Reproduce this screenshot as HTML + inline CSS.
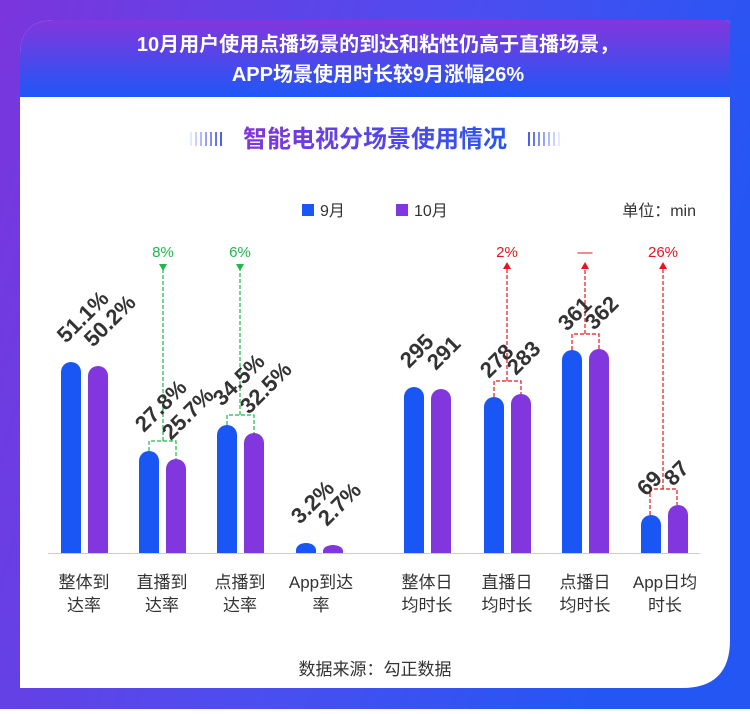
<!DOCTYPE html>
<html><head><meta charset="utf-8"><style>
body{margin:0;width:750px;height:709px;overflow:hidden;font-family:"Liberation Sans","Noto Sans CJK SC",sans-serif}
</style></head><body>
<svg width="750" height="709" viewBox="0 0 750 709" xmlns="http://www.w3.org/2000/svg" font-family="Liberation Sans, Noto Sans CJK SC, sans-serif">
<defs>
<linearGradient id="bg" x1="0" y1="0" x2="1" y2="0.3"><stop offset="0" stop-color="#7b35dc"/><stop offset="0.6" stop-color="#4a4ef0"/><stop offset="1" stop-color="#2456f4"/></linearGradient>
<linearGradient id="hd" x1="0" y1="0" x2="0" y2="1"><stop offset="0" stop-color="#8336dd"/><stop offset="1" stop-color="#1f57f6"/></linearGradient>
<linearGradient id="tt" x1="0" y1="0" x2="1" y2="0"><stop offset="0" stop-color="#8236dc"/><stop offset="1" stop-color="#2a55f0"/></linearGradient>
<linearGradient id="sl" x1="0" y1="0" x2="1" y2="0"><stop offset="0" stop-color="#fff"/><stop offset="1" stop-color="#4a5ef0"/></linearGradient>
<linearGradient id="sr" x1="1" y1="0" x2="0" y2="0"><stop offset="0" stop-color="#fff"/><stop offset="1" stop-color="#4a5ef0"/></linearGradient>
</defs>
<rect width="750" height="709" fill="url(#bg)"/>
<path d="M55 20 H726 Q730 20 730 24 V640 Q730 688 682 688 H20 V55 Q20 20 55 20Z" fill="#fff"/>
<path d="M55 20 H726 Q730 20 730 24 V97 H20 V55 Q20 20 55 20Z" fill="url(#hd)"/>
<g fill="#fff" font-weight="bold" font-size="20" text-anchor="middle">
<text x="378" y="51">10月用户使用点播场景的到达和粘性仍高于直播场景，</text>
<text x="378" y="81">APP场景使用时长较9月涨幅26%</text>
</g>
<text x="375" y="147" text-anchor="middle" font-size="24" font-weight="bold" fill="url(#tt)">智能电视分场景使用情况</text>
<g stroke-width="2">
<g stroke="url(#sl)"><path d="M186 132v14M191 132v14M196 132v14M201 132v14M206 132v14M211 132v14M216 132v14M221 132v14"/></g>
<g stroke="url(#sr)"><path d="M529 132v14M534 132v14M539 132v14M544 132v14M549 132v14M554 132v14M559 132v14M564 132v14"/></g>
</g>
<rect x="302" y="204" width="12" height="12" fill="#1a56f3"/>
<text x="320" y="216" font-size="16" fill="#333">9月</text>
<rect x="396" y="204" width="12" height="12" fill="#8136de"/>
<text x="414" y="216" font-size="16" fill="#333">10月</text>
<text x="696" y="216" font-size="16" fill="#333" text-anchor="end">单位：min</text>
<line x1="48" y1="553.5" x2="700" y2="553.5" stroke="#ccc"/>
<g>
<path d="M61 553V372a10 10 0 0 1 20 0V553Z" fill="#1a56f3"/>
<path d="M88 553V376a10 10 0 0 1 20 0V553Z" fill="#8136de"/>
<path d="M139 553V461a10 10 0 0 1 20 0V553Z" fill="#1a56f3"/>
<path d="M166 553V469a10 10 0 0 1 20 0V553Z" fill="#8136de"/>
<path d="M217 553V435a10 10 0 0 1 20 0V553Z" fill="#1a56f3"/>
<path d="M244 553V443a10 10 0 0 1 20 0V553Z" fill="#8136de"/>
<path d="M404 553V397a10 10 0 0 1 20 0V553Z" fill="#1a56f3"/>
<path d="M431 553V399a10 10 0 0 1 20 0V553Z" fill="#8136de"/>
<path d="M484 553V407a10 10 0 0 1 20 0V553Z" fill="#1a56f3"/>
<path d="M511 553V404a10 10 0 0 1 20 0V553Z" fill="#8136de"/>
<path d="M562 553V360a10 10 0 0 1 20 0V553Z" fill="#1a56f3"/>
<path d="M589 553V359a10 10 0 0 1 20 0V553Z" fill="#8136de"/>
<path d="M641 553V525a10 10 0 0 1 20 0V553Z" fill="#1a56f3"/>
<path d="M668 553V515a10 10 0 0 1 20 0V553Z" fill="#8136de"/>
</g>
<path d="M296 553V550a10 7 0 0 1 20 0V553Z" fill="#1a56f3"/>
<path d="M323 553V551a10 6 0 0 1 20 0V553Z" fill="#8136de"/>
<g fill="none" stroke-width="1.2" stroke-dasharray="4,2">
<g stroke="#1db84a">
<path d="M149 451V441H176V459M163 441V268"/>
<path d="M227 425V415H254V433M240 415V268"/>
</g>
<g stroke="#e8141c">
<path d="M494 397V381H521V394M507 381V268"/>
<path d="M572 350V334H599V349M585 334V268"/>
<path d="M650 515V489H677V505M663 489V268"/>
</g>
</g>
<g fill="#1db84a"><path d="M159 264h8l-4 7z"/><path d="M236 264h8l-4 7z"/></g>
<g fill="#e8141c"><path d="M503 269h8l-4-7z"/><path d="M581 269h8l-4-7z"/><path d="M659 269h8l-4-7z"/></g>
<g font-size="15" text-anchor="middle">
<text x="163" y="257" fill="#1db84a">8%</text>
<text x="240" y="257" fill="#1db84a">6%</text>
<text x="507" y="257" fill="#e8141c">2%</text>
<text x="585" y="257" fill="#e8141c">—</text>
<text x="663" y="257" fill="#e8141c">26%</text>
</g>
<g font-size="22" font-weight="bold" fill="#333">
<text transform="translate(66,344) rotate(-45)">51.1%</text>
<text transform="translate(93,348) rotate(-45)">50.2%</text>
<text transform="translate(144,433) rotate(-45)">27.8%</text>
<text transform="translate(171,441) rotate(-45)">25.7%</text>
<text transform="translate(222,407) rotate(-45)">34.5%</text>
<text transform="translate(249,415) rotate(-45)">32.5%</text>
<text transform="translate(300,525) rotate(-45)">3.2%</text>
<text transform="translate(327,527) rotate(-45)">2.7%</text>
<text transform="translate(409,369) rotate(-45)">295</text>
<text transform="translate(436,371) rotate(-45)">291</text>
<text transform="translate(489,379) rotate(-45)">278</text>
<text transform="translate(516,376) rotate(-45)">283</text>
<text transform="translate(567,332) rotate(-45)">361</text>
<text transform="translate(594,331) rotate(-45)">362</text>
<text transform="translate(646,497) rotate(-45)">69</text>
<text transform="translate(673,487) rotate(-45)">87</text>
</g>
<g font-size="17" fill="#333" text-anchor="middle">
<text x="84" y="588">整体到</text><text x="84" y="611">达率</text>
<text x="162" y="588">直播到</text><text x="162" y="611">达率</text>
<text x="240" y="588">点播到</text><text x="240" y="611">达率</text>
<text x="321" y="588">App到达</text><text x="321" y="611">率</text>
<text x="427" y="588">整体日</text><text x="427" y="611">均时长</text>
<text x="507" y="588">直播日</text><text x="507" y="611">均时长</text>
<text x="585" y="588">点播日</text><text x="585" y="611">均时长</text>
<text x="665" y="588">App日均</text><text x="665" y="611">时长</text>
<text x="375" y="675">数据来源：勾正数据</text>
</g>
</svg>
</body></html>
